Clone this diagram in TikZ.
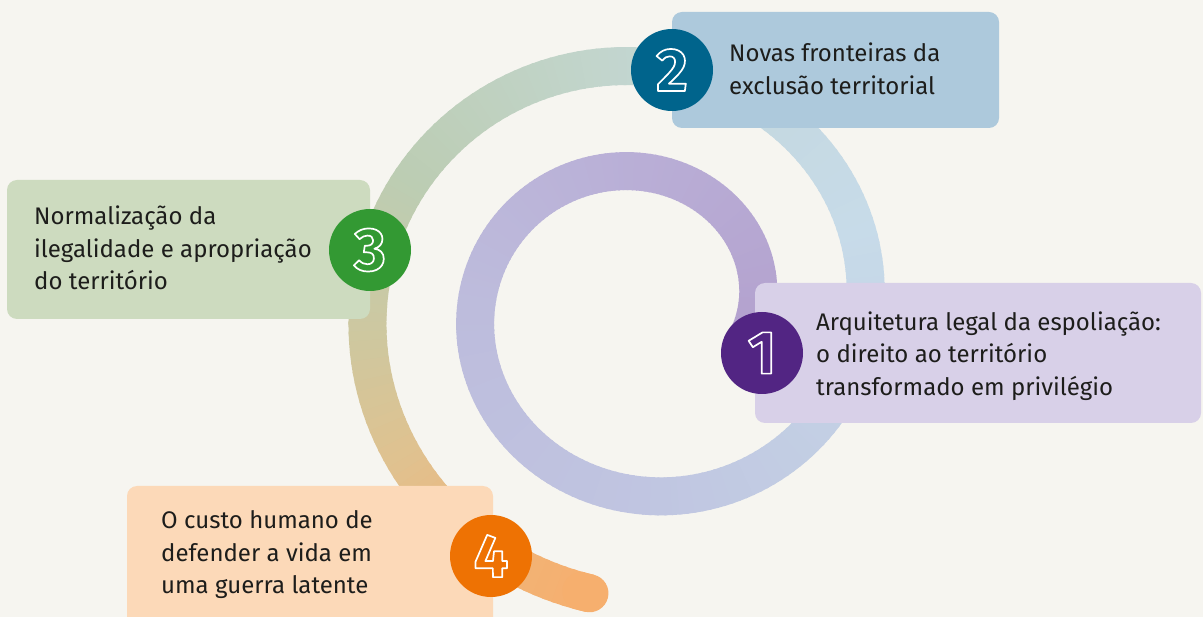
\documentclass[tikz,border=0pt]{standalone}
\usepackage{fontspec}
\setmainfont{Fira Sans}
\definecolor{bg}{HTML}{F6F5F0}
\definecolor{txt}{HTML}{1D1D1B}
\definecolor{boxA}{HTML}{D8D0E8}
\definecolor{boxB}{HTML}{ADC9DC}
\definecolor{boxC}{HTML}{CDDBBF}
\definecolor{boxD}{HTML}{FCD9B8}
\definecolor{numA}{HTML}{522583}
\definecolor{numB}{HTML}{00648C}
\definecolor{numC}{HTML}{339933}
\definecolor{numD}{HTML}{EE7203}
\definecolor{s0}{RGB}{179,161,206}
\definecolor{s1}{RGB}{185,174,214}
\definecolor{s2}{RGB}{189,188,220}
\definecolor{s3}{RGB}{192,197,225}
\definecolor{s4}{RGB}{195,208,228}
\definecolor{s5}{RGB}{199,219,233}
\definecolor{s6}{RGB}{196,216,222}
\definecolor{s7}{RGB}{194,213,204}
\definecolor{s8}{RGB}{188,205,180}
\definecolor{s9}{RGB}{205,200,160}
\definecolor{s10}{RGB}{225,193,142}
\definecolor{s11}{RGB}{240,180,120}
\definecolor{s12}{RGB}{246,175,110}
% outlined digit: stroke only (PDF text render mode 1)
\newcommand\numlabel[1]{{\color{white}\special{pdf:literal direct 1 Tr 1.7 w 1 J 1 j}#1\special{pdf:literal direct 0 Tr}}}
\tikzset{
  declare function={spx(\t)=643.5+(113.5+0.3*\t)*cos(\t);
                    spy(\t)=307.5-(109+0.293*\t)*sin(\t);},
  panel/.style={rounded corners=10pt, inner sep=0pt, draw=none},
  numdisc/.style={circle, minimum size=82pt, inner sep=0pt, font=\fontsize{61}{61}\selectfont\bfseries},
  caption/.style={anchor=west, align=left, inner sep=0pt, text=txt, font=\fontsize{24}{32.5}\selectfont}
}
\begin{document}
\begin{tikzpicture}[x=1pt,y=-1pt]
\useasboundingbox (0,0) rectangle (1203,617);
\clip (0,0) rectangle (1203,617);
\fill[bg] (0,0) rectangle (1203,617);
% spiral
\foreach \ta/\tb/\ca/\cb in {-15/90/s0/s1, 90/180/s1/s2, 180/270/s2/s3, 270/330/s3/s4, 330/380/s4/s5, 380/430/s5/s6, 430/460/s6/s7, 460/510/s7/s8, 510/545/s8/s9, 545/575/s9/s10, 575/600/s10/s11, 600/619/s11/s12}{
  \pgfmathtruncatemacro{\n}{max(1,round((\tb-\ta)/2))}
  \foreach \k in {1,...,\n}{
    \pgfmathsetmacro{\u}{\ta+(\k-1)*(\tb-\ta)/\n}
    \pgfmathsetmacro{\v}{\ta+\k*(\tb-\ta)/\n+0.6}
    \pgfmathsetmacro{\p}{100*(\k-0.5)/\n}
    \draw[line width=38pt, color=\cb!\p!\ca] plot[domain=\u:\v, samples=4, variable=\t] ({spx(\t)},{spy(\t)});
  }
}
\draw[line width=38pt, line cap=round, color=s12] plot[domain=618:619.6, samples=3, variable=\t] ({spx(\t)},{spy(\t)});
% panels
\path[panel, fill=boxB] (672,12) rectangle (999,128);
\path[panel, fill=boxA] (755,283) rectangle (1201,423);
\path[panel, fill=boxC] (7,180) rectangle (370,319);
\path[panel, fill=boxD] (127,486) rectangle (493,650);
% number discs
\node[numdisc, fill=numA] (n1) at (762,353) {\numlabel{1}};
\node[numdisc, fill=numB] (n2) at (672,70) {\numlabel{2}};
\node[numdisc, fill=numC] (n3) at (370,250) {\numlabel{3}};
\node[numdisc, fill=numD] (n4) at (491,556) {\numlabel{4}};
% captions
\node[caption] (t1) at (816,356) {Arquitetura legal da espoliação:\\o direito ao território\\transformado em privilégio};
\node[caption] (t2) at (729,69) {Novas fronteiras da\\exclusão territorial};
\node[caption] (t3) at (34,248) {Normalização da\\ilegalidade e apropriação\\do território};
\node[caption] (t4) at (161,555) {O custo humano de\\defender a vida em\\uma guerra latente};
\end{tikzpicture}
\end{document}
